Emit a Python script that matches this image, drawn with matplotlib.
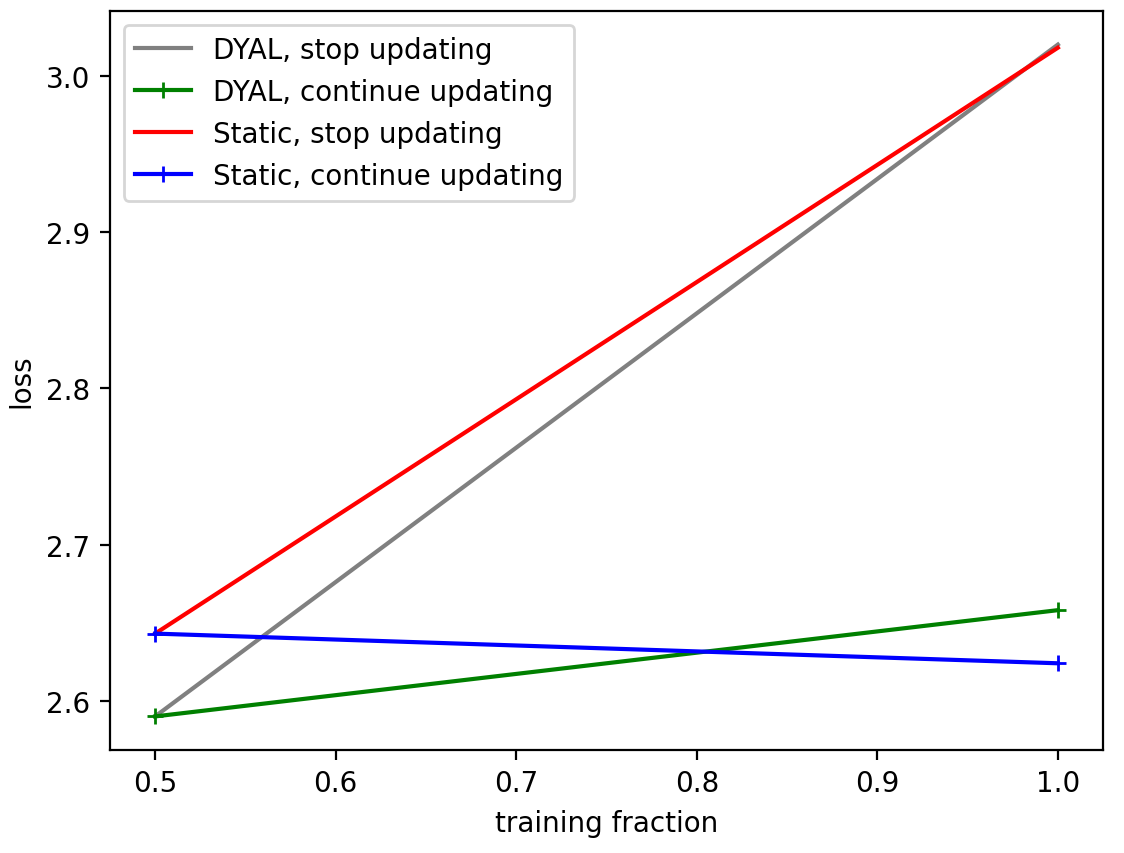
import matplotlib
matplotlib.use('Agg')
import matplotlib.pyplot as plt

# training fractions
fractions = [0.5, 1.0]

# loss values
dyal_stop = [2.590, 3.020]
dyal_continue = [2.590, 2.658]
static_stop = [2.643, 3.018]
static_continue = [2.643, 2.624]

W, H, DPI = 1124, 854, 200
fig = plt.figure(figsize=(W / DPI, H / DPI), dpi=DPI)
ax = fig.add_axes([110 / W, (H - 751) / H, (1103 - 110) / W, (751 - 12) / H])

ax.plot(fractions, dyal_stop, '-', color='grey', label='DYAL, stop updating')
ax.plot(fractions, dyal_continue, '+-', color='green', label='DYAL, continue updating')
ax.plot(fractions, static_stop, '-', color='red', label='Static, stop updating')
ax.plot(fractions, static_continue, '+-', color='blue', label='Static, continue updating')

ax.set_xlabel('training fraction')
ax.set_ylabel('loss')
ax.legend(loc='upper left')

fig.savefig('out.png', dpi=DPI)
